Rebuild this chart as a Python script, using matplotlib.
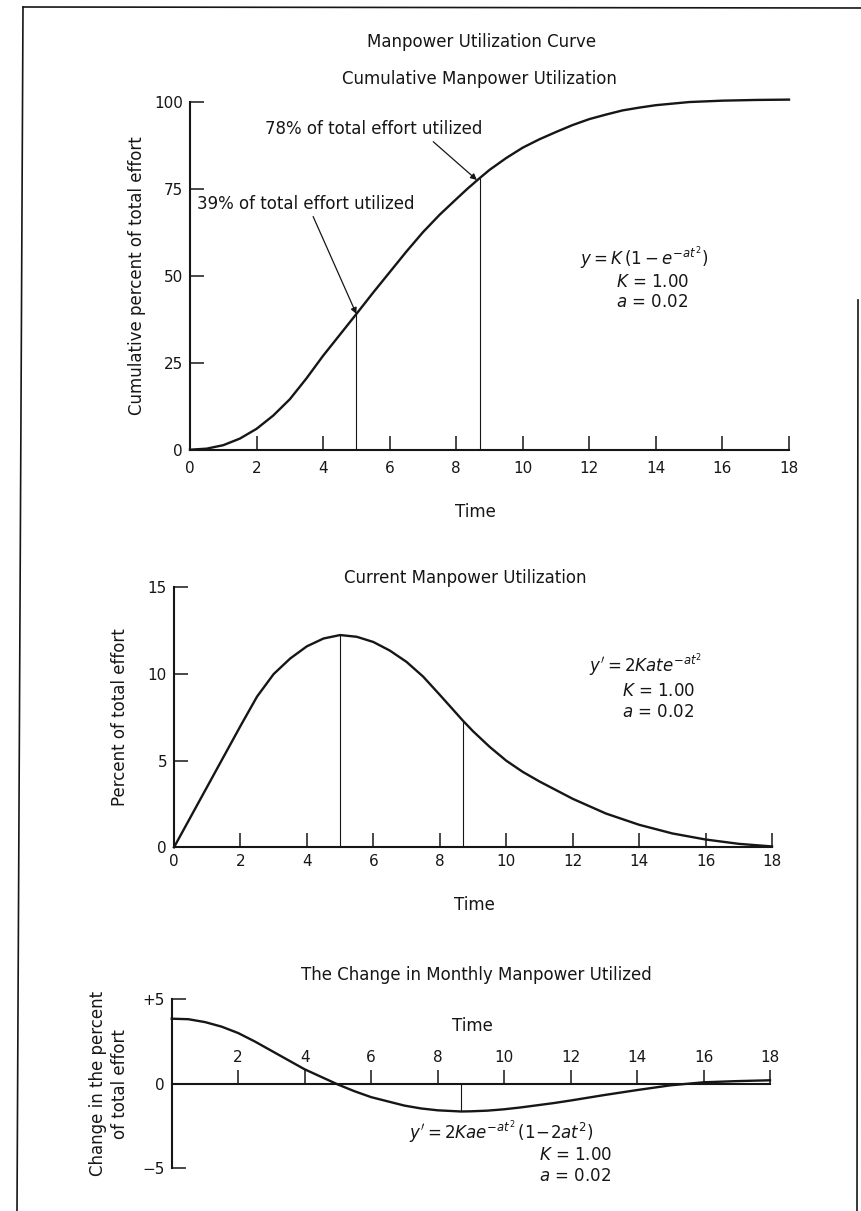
import numpy as np
import matplotlib.pyplot as plt
from matplotlib.lines import Line2D

plt.rcParams['font.family'] = 'DejaVu Sans'
plt.rcParams['mathtext.fontset'] = 'dejavusans'

W, H = 862, 1211  # canvas size in pixels

# cumulative manpower utilization (% of total effort)
t_cum = [0, 0.5, 1, 1.5, 2, 2.5, 3, 3.5, 4, 4.5, 5, 5.5, 6, 6.5, 7, 7.5, 8, 8.35, 8.7, 9,
         9.5, 10, 10.5, 11, 11.5, 12, 12.5, 13, 13.5, 14, 15, 16, 17, 18]
cum_pct = [0, 0.3, 1.3, 3.2, 6, 9.8, 14.5, 20.5, 27, 33, 39, 45.1, 51, 56.9, 62.5, 67.5, 72, 75.1, 78, 80.4,
           83.8, 86.8, 89.2, 91.3, 93.3, 95, 96.3, 97.5, 98.3, 99, 99.9, 100.3, 100.5, 100.6]

# current manpower utilization (% of total effort per month)
t_cur = [0, 1, 2, 2.5, 3, 3.5, 4, 4.5, 5, 5.5, 6, 6.5, 7, 7.5, 8, 8.35, 8.7, 9, 9.5, 10,
         10.5, 11, 11.5, 12, 13, 14, 15, 16, 17, 18]
cur_pct = [0, 3.5, 7.0, 8.7, 10.0, 10.9, 11.6, 12.05, 12.25, 12.15, 11.85, 11.35, 10.7, 9.85, 8.8, 8.05, 7.3, 6.7, 5.8, 5.0,
           4.35, 3.8, 3.3, 2.8, 1.95, 1.3, 0.8, 0.45, 0.2, 0.05]

# change in monthly manpower utilized
t_chg = [0, 0.5, 1, 1.5, 2, 2.5, 3, 3.5, 4, 4.5, 5, 5.5, 6, 7, 7.5, 8, 8.7, 9, 9.5, 10,
         10.5, 11, 11.5, 12, 13, 14, 15, 16, 17, 18]
chg_pct = [3.85, 3.82, 3.65, 3.38, 3.0, 2.5, 1.95, 1.4, 0.85, 0.4, -0.05, -0.45, -0.8, -1.3, -1.47, -1.58, -1.65, -1.64, -1.6, -1.52,
           -1.41, -1.28, -1.15, -1.0, -0.68, -0.38, -0.1, 0.08, 0.15, 0.2]

guide_t = [5, 8.7]  # 39% and 78% of effort
cum_notes = ["39% of total effort utilized", "78% of total effort utilized"]

x_ticks = list(range(0, 20, 2))
cum_yticks = [0, 25, 50, 75, 100]
cur_yticks = [0, 5, 10, 15]
chg_yticks = [-5, 0, 5]
chg_ylabels = ["\u22125", "0", "+5"]

INK = "#161616"


def px_axes(x0, x1, ytop, ybot):
    return fig.add_axes([x0 / W, 1 - ybot / H, (x1 - x0) / W, (ybot - ytop) / H])


def fig_text(x, y, s, **kw):
    fig.text(x / W, 1 - y / H, s, ha='center', va='center', color=INK, **kw)


def style(ax, xpad, ypad):
    for s in ['top', 'right']:
        ax.spines[s].set_visible(False)
    for s in ['left', 'bottom']:
        ax.spines[s].set_linewidth(1.5)
        ax.spines[s].set_color(INK)
    ax.tick_params(direction='in', length=10, width=1.1, labelsize=11, colors=INK)
    ax.tick_params(axis='x', pad=xpad)
    ax.tick_params(axis='y', pad=ypad)
    ax.patch.set_alpha(0)


def at(ts, vals, t):
    return vals[ts.index(t)]


fig = plt.figure(figsize=(W / 100, H / 100), dpi=100)

# page frame
frame = [((23, 7), (862, 8)), ((23, 7), (17, 1211)), ((858, 300), (857, 1211))]
for (xa, ya), (xb, yb) in frame:
    fig.add_artist(Line2D([xa / W, xb / W], [1 - ya / H, 1 - yb / H],
                          transform=fig.transFigure, color=INK, lw=1.2))

fig_text(482, 42, "Manpower Utilization Curve", fontsize=12)
fig_text(479, 79, "Cumulative Manpower Utilization", fontsize=12)
fig_text(465, 578, "Current Manpower Utilization", fontsize=12)
fig_text(476, 975, "The Change in Monthly Manpower Utilized", fontsize=12)

# ---- cumulative curve
ax1 = px_axes(190, 789, 101.7, 449.7)
ax1.plot(t_cum, cum_pct, color=INK, lw=1.7, clip_on=False)
ax1.set_xlim(0, 18)
ax1.set_ylim(0, 100)
ax1.set_xticks(x_ticks)
ax1.set_yticks(cum_yticks)
style(ax1, 8, 5)
for g in guide_t:
    ax1.vlines(g, 0, at(t_cum, cum_pct, g), color=INK, lw=0.8)
ax1.text(0.2, 70.7, cum_notes[0], fontsize=12, va='center', color=INK)
ax1.annotate("", xy=(5, at(t_cum, cum_pct, 5)), xytext=(3.7, 67),
             arrowprops=dict(arrowstyle='-|>', color=INK, lw=0.9, mutation_scale=9,
                             shrinkA=0, shrinkB=0))
ax1.text(2.25, 92.1, cum_notes[1], fontsize=12, va='center', color=INK)
ax1.annotate("", xy=(8.62, 77.5), xytext=(7.31, 88.5),
             arrowprops=dict(arrowstyle='-|>', color=INK, lw=0.9, mutation_scale=9,
                             shrinkA=0, shrinkB=0))
ax1.text(13.66, 54.9, r"$y = K\,(1 - e^{-at^2})$", fontsize=12, ha='center', va='center', color=INK)
ax1.text(12.8, 48.3, r"$K$ = 1.00", fontsize=12, ha='left', va='center', color=INK)
ax1.text(12.8, 42.4, r"$a$ = 0.02", fontsize=12, ha='left', va='center', color=INK)
ax1.text(-1.58, 50, "Cumulative percent of total effort", rotation=90, fontsize=12,
         ha='center', va='center', color=INK)
fig_text(475, 512, "Time", fontsize=12)

# ---- current curve
ax2 = px_axes(174, 772, 587.4, 847.3)
ax2.plot(t_cur, cur_pct, color=INK, lw=1.7, clip_on=False)
ax2.set_xlim(0, 18)
ax2.set_ylim(0, 15)
ax2.set_xticks(x_ticks)
ax2.set_yticks(cur_yticks)
style(ax2, 5, 5)
for g in guide_t:
    ax2.vlines(g, 0, at(t_cur, cur_pct, g), color=INK, lw=0.8)
ax2.text(12.5, 10.5, r"$y' = 2Kate^{-at^2}$", fontsize=12, ha='left', va='center', color=INK)
ax2.text(13.5, 9.0, r"$K$ = 1.00", fontsize=12, ha='left', va='center', color=INK)
ax2.text(13.5, 7.8, r"$a$ = 0.02", fontsize=12, ha='left', va='center', color=INK)
ax2.text(-1.63, 7.5, "Percent of total effort", rotation=90, fontsize=12,
         ha='center', va='center', color=INK)
fig_text(474, 905, "Time", fontsize=12)

# ---- change curve, time axis through zero
ax3 = px_axes(171.7, 770, 999.3, 1168)
ax3.plot(t_chg, chg_pct, color=INK, lw=1.7, clip_on=False)
ax3.set_xlim(0, 18)
ax3.set_ylim(-5, 5)
ax3.set_xticks(x_ticks[1:])
ax3.set_yticks(chg_yticks, chg_ylabels)
style(ax3, -24, 5)
ax3.spines['bottom'].set_position(('data', 0))
ax3.vlines(8.7, at(t_chg, chg_pct, 8.7), 0, color=INK, lw=0.8)
ax3.text(9.9, -2.88, r"$y' = 2Kae^{-at^2}\,(1\!-\!2at^2)$", fontsize=12, ha='center', va='center', color=INK)
ax3.text(11.05, -4.2, r"$K$ = 1.00", fontsize=12, ha='left', va='center', color=INK)
ax3.text(11.05, -5.5, r"$a$ = 0.02", fontsize=12, ha='left', va='center', color=INK)
ax3.text(-1.88, 0, "Change in the percent\nof total effort", rotation=90, fontsize=12,
         ha='center', va='center', multialignment='center', linespacing=1.3, color=INK)
fig_text(472, 1026, "Time", fontsize=12)

fig.savefig("out.png", dpi=100)
